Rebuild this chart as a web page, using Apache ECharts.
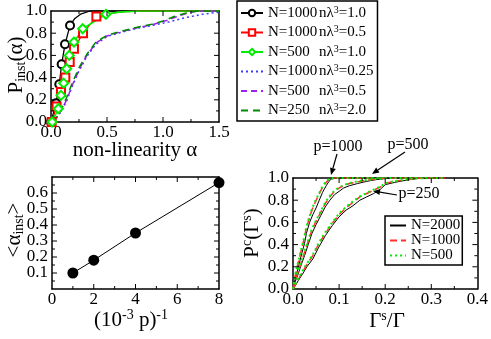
<!DOCTYPE html>
<html>
<head>
<meta charset="utf-8">
<script src="https://cdn.jsdelivr.net/npm/echarts@6/dist/echarts.min.js"></script>
<style>html,body{margin:0;padding:0;background:#fff}#chart{width:491px;height:339px}</style>
</head>
<body>
<div id="chart"></div>
<script>
// ---- top-left panel: P_inst(alpha), marked points + unmarked tail
var blk10Marks = [[0.0,0.0],[0.045,0.17],[0.074,0.34],[0.095,0.52],[0.125,0.70],[0.17,0.87]];
var blk10Tail  = [[0.21,0.93],[0.27,0.975],[0.35,1.0],[1.5,1.0]];
var red05Marks = [[0.006,0.0],[0.05,0.14],[0.089,0.27],[0.128,0.40],[0.167,0.54],[0.205,0.66],[0.286,0.80],[0.405,0.95]];
var red05Tail  = [[0.5,0.975],[0.65,0.995],[0.8,1.0],[1.5,1.0]];
var grn10Marks = [[0.01,0.0],[0.065,0.12],[0.089,0.24],[0.113,0.35],[0.14,0.48],[0.163,0.60],[0.205,0.72],[0.283,0.84],[0.49,0.97]];
var grn10Tail  = [[0.6,0.99],[0.8,1.0],[1.5,1.0]];
var blu025 = [[0.02,0.0],[0.06,0.05],[0.1,0.11],[0.14,0.19],[0.185,0.31],[0.25,0.46],[0.32,0.59],[0.4,0.7],[0.5,0.77],[0.6,0.80],[0.75,0.84],[0.9,0.87],[1.05,0.90],[1.2,0.94],[1.35,0.97],[1.5,0.99]];
var pur05  = [[0.02,0.0],[0.06,0.05],[0.1,0.12],[0.14,0.2],[0.185,0.32],[0.25,0.47],[0.32,0.6],[0.4,0.71],[0.5,0.775],[0.6,0.805],[0.75,0.845],[0.9,0.875],[1.05,0.92],[1.15,0.96],[1.25,0.99],[1.35,1.0],[1.5,1.0]];
var dgr20  = [[0.02,0.0],[0.06,0.06],[0.1,0.13],[0.14,0.22],[0.185,0.34],[0.25,0.49],[0.32,0.61],[0.4,0.72],[0.5,0.78],[0.6,0.81],[0.75,0.85],[0.9,0.88],[1.0,0.91],[1.1,0.95],[1.2,0.98],[1.3,1.0],[1.5,1.0]];
var legN   = ['1000','1000','500','1000','500','250'];
var legNL  = ['1.0','0.5','1.0','0.25','0.5','2.0'];

// ---- bottom-left panel
var pInv  = [1, 2, 4, 8];
var alpha = [0.10, 0.18, 0.35, 0.665];

// ---- bottom-right panel: P^c(Gamma^s) for p=1000, 500, 250
var p1000N2000 = [[0,0],[0.004,0.08],[0.008,0.14],[0.013,0.22],[0.019,0.32],[0.025,0.41],[0.029,0.5],[0.036,0.6],[0.043,0.67],[0.05,0.73],[0.057,0.8],[0.064,0.87],[0.072,0.93],[0.078,0.97],[0.083,0.99],[0.095,1.0],[0.2,1.0]];
var p1000N1000 = [[0,0],[0.003,0.09],[0.007,0.16],[0.012,0.25],[0.018,0.35],[0.024,0.45],[0.028,0.53],[0.034,0.62],[0.041,0.71],[0.048,0.78],[0.055,0.84],[0.062,0.9],[0.07,0.95],[0.076,0.98],[0.082,0.995],[0.09,1.0],[0.2,1.0]];
var p1000N500  = [[0,0],[0.003,0.1],[0.007,0.17],[0.012,0.26],[0.018,0.36],[0.024,0.46],[0.028,0.54],[0.034,0.63],[0.041,0.72],[0.048,0.79],[0.055,0.85],[0.062,0.91],[0.07,0.96],[0.076,0.985],[0.082,0.997],[0.09,1.0],[0.2,1.0]];
var p500N2000  = [[0,0],[0.004,0.06],[0.01,0.12],[0.018,0.22],[0.025,0.3],[0.033,0.4],[0.041,0.5],[0.05,0.58],[0.06,0.66],[0.07,0.74],[0.08,0.8],[0.09,0.85],[0.1,0.88],[0.11,0.91],[0.122,0.93],[0.14,0.95],[0.16,0.97],[0.18,0.985],[0.2,0.995],[0.22,1.0],[0.3,1.0]];
var p500N1000  = [[0,0],[0.004,0.07],[0.01,0.14],[0.018,0.24],[0.025,0.33],[0.033,0.43],[0.041,0.53],[0.05,0.61],[0.06,0.69],[0.07,0.77],[0.08,0.83],[0.09,0.88],[0.1,0.91],[0.11,0.93],[0.122,0.95],[0.14,0.965],[0.16,0.98],[0.18,0.99],[0.2,0.997],[0.22,1.0],[0.3,1.0]];
var p500N500   = [[0,0],[0.004,0.075],[0.01,0.15],[0.018,0.25],[0.025,0.34],[0.033,0.44],[0.041,0.54],[0.05,0.62],[0.06,0.7],[0.07,0.78],[0.08,0.84],[0.09,0.885],[0.1,0.915],[0.11,0.935],[0.122,0.955],[0.14,0.97],[0.16,0.982],[0.18,0.992],[0.2,0.998],[0.22,1.0],[0.3,1.0]];
var p250N2000  = [[0,0],[0.005,0.03],[0.012,0.08],[0.02,0.13],[0.03,0.2],[0.043,0.27],[0.055,0.37],[0.07,0.48],[0.085,0.57],[0.1,0.65],[0.115,0.71],[0.13,0.75],[0.145,0.8],[0.16,0.83],[0.175,0.86],[0.19,0.9],[0.2,0.94],[0.22,0.96],[0.245,0.98],[0.27,0.995],[0.3,1.0],[0.33,1.0]];
var p250N1000  = [[0,0],[0.005,0.04],[0.012,0.09],[0.02,0.15],[0.03,0.22],[0.043,0.3],[0.055,0.4],[0.07,0.5],[0.085,0.59],[0.1,0.67],[0.115,0.73],[0.13,0.78],[0.145,0.83],[0.16,0.86],[0.175,0.89],[0.19,0.92],[0.2,0.95],[0.22,0.97],[0.245,0.985],[0.27,0.997],[0.3,1.0],[0.33,1.0]];
var p250N500   = [[0,0],[0.005,0.045],[0.012,0.1],[0.02,0.16],[0.03,0.23],[0.043,0.31],[0.055,0.41],[0.07,0.51],[0.085,0.6],[0.1,0.68],[0.115,0.74],[0.13,0.79],[0.145,0.835],[0.16,0.865],[0.175,0.895],[0.19,0.925],[0.2,0.95],[0.22,0.972],[0.245,0.987],[0.27,0.997],[0.3,1.0],[0.33,1.0]];

// axis ranges per panel: [min, max, major step]
var xRanges = [[0, 1.5, 0.5], [0, 8, 2], [0, 0.4, 0.1]];
var yRanges = [[0, 1, 0.2], [0, 0.7, 0.1], [0, 1, 0.2]];

var FONT = 'Liberation Serif';
var chart = echarts.init(document.getElementById('chart'));

var grids = [
    { left: 51, top: 11, width: 168, height: 111 },
    { left: 52, top: 177, width: 167, height: 112 },
    { left: 293, top: 178, width: 186, height: 111 }
];
function fix1(v) { return v.toFixed(1); }

// labelled edge + opposite edge; ticks come from tickSeries below
function axisPair(dim, g, fmt) {
    var r = dim === 'x' ? xRanges[g] : yRanges[g];
    function base(pos, labels) {
        return {
            type: 'value', gridIndex: g, position: pos, min: r[0], max: r[1], interval: r[2],
            axisLine: { show: true, onZero: false, lineStyle: { color: '#000', width: 1.5 } },
            axisTick: { show: false }, minorTick: { show: false }, splitLine: { show: false },
            axisLabel: { show: labels, formatter: fmt, color: '#000', fontFamily: FONT, fontSize: 17, margin: dim === 'x' ? 2 : 4 }
        };
    }
    return dim === 'x' ? [base('bottom', true), base('top', false)] : [base('left', true), base('right', false)];
}
// minor + major ticks on all four edges, pointing into the plot
function tickSeries(g) {
    var data = [];
    [xRanges[g], yRanges[g]].forEach(function (r, isY) {
        var half = r[2] / 2;
        for (var i = 1; r[0] + i * half < r[1] - 1e-9; i++) data.push([isY, r[0] + i * half, i % 2 ? 3 : 5]);
    });
    var xr = xRanges[g], yr = yRanges[g];
    return {
        type: 'custom', xAxisIndex: 2 * g, yAxisIndex: 2 * g, data: data, silent: true, clip: false, animation: false, z: 5,
        renderItem: function (params, api) {
            var isY = api.value(0), v = api.value(1), len = api.value(2), a, b, d;
            if (isY) { a = api.coord([xr[0], v]); b = api.coord([xr[1], v]); d = [len, 0]; }
            else { a = api.coord([v, yr[0]]); b = api.coord([v, yr[1]]); d = [0, -len]; }
            return { type: 'group', children: [
                { type: 'line', shape: { x1: a[0], y1: a[1], x2: a[0] + d[0], y2: a[1] + d[1] }, style: { stroke: '#000', lineWidth: 1 } },
                { type: 'line', shape: { x1: b[0], y1: b[1], x2: b[0] - d[0], y2: b[1] - d[1] }, style: { stroke: '#000', lineWidth: 1 } }
            ] };
        }
    };
}
function marked(m, tail) {
    return m.concat(tail.map(function (p) { return { value: p, symbol: 'none' }; }));
}
function lineSeries(name, data, g, color, type, width, extra) {
    var s = {
        type: 'line', name: name, data: data, xAxisIndex: 2 * g, yAxisIndex: 2 * g,
        symbol: 'none', showSymbol: true, animation: false, silent: true,
        lineStyle: { color: color, type: type, width: width },
        itemStyle: { color: color, borderColor: color, borderWidth: 1.2 }
    };
    for (var k in extra) s[k] = extra[k];
    return s;
}
var topNames = legN.map(function (n, i) { return 'N=' + n + ' nλ3=' + legNL[i]; });

var series = [
    tickSeries(0), tickSeries(1), tickSeries(2),
    lineSeries(topNames[0], marked(blk10Marks, blk10Tail), 0, '#000', 'solid', 1.3, { symbol: 'emptyCircle', symbolSize: 8 }),
    lineSeries(topNames[1], marked(red05Marks, red05Tail), 0, '#ff0000', 'solid', 1.3, { symbol: 'emptyRect', symbolSize: 8 }),
    lineSeries(topNames[2], marked(grn10Marks, grn10Tail), 0, '#00ee00', 'solid', 1.6, { symbol: 'emptyDiamond', symbolSize: 9 }),
    lineSeries(topNames[3], blu025, 0, '#3a3aff', [2, 3], 1.5),
    lineSeries(topNames[4], pur05, 0, '#a020f0', [6, 4], 1.5),
    lineSeries(topNames[5], dgr20, 0, '#008a00', [7, 5], 1.5),
    lineSeries('alpha', pInv.map(function (v, i) { return [v, alpha[i]]; }), 1, '#000', 'solid', 1,
        { symbol: 'circle', symbolSize: 11, itemStyle: { color: '#000' } })
];
[[p1000N2000, p1000N1000, p1000N500], [p500N2000, p500N1000, p500N500], [p250N2000, p250N1000, p250N500]].forEach(function (grp) {
    series.push(lineSeries('N=2000', grp[0], 2, '#000', 'solid', 1));
    series.push(lineSeries('N=1000', grp[1], 2, '#ff3030', [7, 4], 1.5));
    series.push(lineSeries('N=500', grp[2], 2, '#00ee00', [2, 3], 2));
});

var legRich = {
    n: { fontFamily: FONT, fontSize: 15, width: 51, lineHeight: 16 },
    l: { fontFamily: FONT, fontSize: 15, lineHeight: 16 },
    s: { fontFamily: FONT, fontSize: 10, lineHeight: 6, verticalAlign: 'top' },
    v: { fontFamily: FONT, fontSize: 15, lineHeight: 16 }
};
var titleRich = {
    m: { fontFamily: FONT, fontSize: 21, lineHeight: 24, fill: '#000' },
    sub: { fontFamily: FONT, fontSize: 14, lineHeight: 10, verticalAlign: 'bottom', fill: '#000' },
    sup: { fontFamily: FONT, fontSize: 14, lineHeight: 10, verticalAlign: 'top', fill: '#000' }
};
function title(x, y, text, rot) {
    return { type: 'text', x: x, y: y, rotation: rot || 0, silent: true,
        style: { text: text, rich: titleRich, align: 'center', verticalAlign: 'middle', fill: '#000' } };
}
function note(x, y, text) {
    return { type: 'text', x: x, y: y, silent: true,
        style: { text: text, fontFamily: FONT, fontSize: 16, fill: '#000', align: 'center', verticalAlign: 'middle' } };
}
function arrow(x1, y1, x2, y2) {
    var ang = Math.atan2(y2 - y1, x2 - x1), L = 7, W = 3;
    var bx = x2 - L * Math.cos(ang), by = y2 - L * Math.sin(ang);
    var px = -Math.sin(ang) * W, py = Math.cos(ang) * W;
    return [
        { type: 'line', silent: true, shape: { x1: x1, y1: y1, x2: bx, y2: by }, style: { stroke: '#000', lineWidth: 1.2 } },
        { type: 'polygon', silent: true, shape: { points: [[x2, y2], [bx + px, by + py], [bx - px, by - py]] }, style: { fill: '#000' } }
    ];
}
var hidden = { opacity: 0 };

chart.setOption({
    backgroundColor: '#fff',
    animation: false,
    grid: grids,
    xAxis: [].concat(
        axisPair('x', 0, fix1),
        axisPair('x', 1, function (v) { return String(v); }),
        axisPair('x', 2, fix1)
    ),
    yAxis: [].concat(
        axisPair('y', 0, fix1),
        axisPair('y', 1, function (v) { return v > 0.65 ? '' : v.toFixed(1); }),
        axisPair('y', 2, fix1)
    ),
    legend: [
        {
            data: topNames.map(function (n, i) { return i < 3 ? { name: n } : { name: n, itemStyle: hidden }; }),
            orient: 'vertical', left: 237, top: 1, itemGap: 4, itemWidth: 22, itemHeight: 8,
            padding: [4, 4, 3, 3], borderColor: '#000', borderWidth: 1.5, borderRadius: 0, selectedMode: false,
            formatter: function (name) {
                var i = topNames.indexOf(name);
                return '{n|N=' + legN[i] + '}{l|nλ}{s|3}{v|=' + legNL[i] + '}';
            },
            textStyle: { color: '#000', rich: legRich }
        },
        {
            data: ['N=2000', 'N=1000', 'N=500'].map(function (n) { return { name: n, itemStyle: hidden }; }),
            orient: 'vertical', left: 385, top: 216, itemGap: 0, itemWidth: 16, itemHeight: 9,
            padding: [2, 2, 2, 4], borderColor: '#000', borderWidth: 1.5, borderRadius: 0, selectedMode: false,
            textStyle: { color: '#000', fontFamily: FONT, fontSize: 15, lineHeight: 14 }
        }
    ],
    series: series,
    graphic: [
        title(16, 65, '{m|P}{sub|inst}{m|(α)}', Math.PI / 2),
        title(135, 150, '{m|non-linearity α}'),
        title(14, 230, '{m|<α}{sub|inst}{m|>}', Math.PI / 2),
        title(131, 320, '{m|(10}{sup|-3}{m| p)}{sup|-1}'),
        title(252, 233, '{m|P}{sup|c}{m|(Γ}{sup|s}{m|)}', Math.PI / 2),
        title(387, 321, '{m|Γ}{sup|s}{m|/Γ}'),
        note(338, 147, 'p=1000'),
        note(408, 145, 'p=500'),
        note(419, 194, 'p=250')
    ].concat(arrow(337, 154, 331, 175), arrow(405, 152, 372, 174), arrow(397, 195, 373, 191))
});
</script>
</body>
</html>
